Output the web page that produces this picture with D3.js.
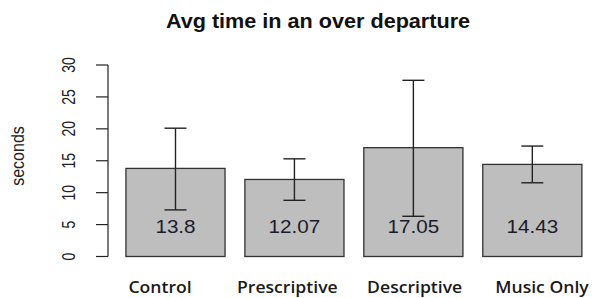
<!DOCTYPE html>
<html><head><meta charset="utf-8">
<script src="https://cdn.jsdelivr.net/npm/d3@7"></script>
<style>body{margin:0;background:#fff}</style>
</head><body>
<svg id="c" width="595" height="298"></svg>
<script>
const categories = ["Control", "Prescriptive", "Descriptive", "Music Only"];
const means = [13.8, 12.07, 17.05, 14.43];
const upper = [20.1, 15.3, 27.6, 17.3];
const lower = [7.3, 8.8, 6.3, 11.55];
const yTicks = [0, 5, 10, 15, 20, 25, 30];
const title = "Avg time in an over departure";
const yLabel = "seconds";

const svg = d3.select("#c");
const y = d3.scaleLinear().domain([0, 30]).range([256.5, 65]);
const x = d3.scaleBand().domain(categories).range([106.1, 601.7]).paddingInner(0.1667).paddingOuter(0.1667);
const xl = d3.scalePoint().domain(categories).range([160, 542]);

svg.append("text").attr("transform", "translate(318,28.3) scale(1.03,1)").attr("text-anchor", "middle")
  .attr("font-family", "Liberation Sans, Arial, sans-serif").attr("font-weight", "bold")
  .attr("font-size", 21).attr("fill", "#111").text(title);

// y axis
const ax = svg.append("g").attr("transform", "translate(108,0)");
ax.append("line").attr("x1", 0).attr("x2", 0).attr("y1", y(0)).attr("y2", y(30)).attr("stroke", "#222").attr("stroke-width", 1.2);
ax.selectAll("line.t").data(yTicks).enter().append("line").attr("class", "t")
  .attr("x1", -12).attr("x2", 0).attr("y1", d => y(d)).attr("y2", d => y(d)).attr("stroke", "#222").attr("stroke-width", 1.2);
ax.selectAll("text").data(yTicks).enter().append("text")
  .attr("transform", d => `translate(-40,${y(d)}) rotate(-90) scale(1,1.3)`)
  .attr("text-anchor", "middle").attr("dy", "0.36em")
  .attr("font-family", "Liberation Sans, Arial, sans-serif").attr("font-size", 14).attr("fill", "#222")
  .text(d => d);

svg.append("text").attr("transform", "translate(17.5,156) rotate(-90) scale(1,1.15)")
  .attr("text-anchor", "middle").attr("dy", "0.35em")
  .attr("font-family", "Liberation Sans, Arial, sans-serif").attr("font-size", 16).attr("fill", "#222")
  .text(yLabel);

// bars
const g = svg.append("g");
g.selectAll("rect").data(categories).enter().append("rect")
  .attr("x", d => x(d)).attr("width", x.bandwidth())
  .attr("y", (d, i) => y(means[i])).attr("height", (d, i) => y(0) - y(means[i]))
  .attr("fill", "#bebebe").attr("stroke", "#333").attr("stroke-width", 1.3);

// error bars
const cx = d => x(d) + x.bandwidth() / 2;
const cap = 11;
g.selectAll("line.v").data(categories).enter().append("line").attr("class", "v")
  .attr("x1", cx).attr("x2", cx).attr("y1", (d, i) => y(upper[i])).attr("y2", (d, i) => y(lower[i]))
  .attr("stroke", "#222").attr("stroke-width", 1.4);
g.selectAll("line.u").data(categories).enter().append("line").attr("class", "u")
  .attr("x1", d => cx(d) - cap).attr("x2", d => cx(d) + cap)
  .attr("y1", (d, i) => y(upper[i])).attr("y2", (d, i) => y(upper[i]))
  .attr("stroke", "#222").attr("stroke-width", 1.4);
g.selectAll("line.l").data(categories).enter().append("line").attr("class", "l")
  .attr("x1", d => cx(d) - cap).attr("x2", d => cx(d) + cap)
  .attr("y1", (d, i) => y(lower[i])).attr("y2", (d, i) => y(lower[i]))
  .attr("stroke", "#222").attr("stroke-width", 1.4);

// value labels
g.selectAll("text.val").data(categories).enter().append("text").attr("class", "val")
  .attr("transform", d => `translate(${cx(d)},232.7) scale(1.18,1)`).attr("text-anchor", "middle")
  .attr("font-family", "Liberation Sans, Arial, sans-serif").attr("font-size", 17.5).attr("fill", "#1b1b2b")
  .text((d, i) => means[i]);

// category labels
g.selectAll("text.cat").data(categories).enter().append("text").attr("class", "cat")
  .attr("transform", d => `translate(${xl(d)},292.7) scale(1.1,1)`).attr("text-anchor", "middle")
  .attr("font-family", "Open Sans, sans-serif").attr("font-weight", 600).attr("font-size", 16).attr("fill", "#1a1a1a")
  .text(d => d);
</script>
</body></html>
